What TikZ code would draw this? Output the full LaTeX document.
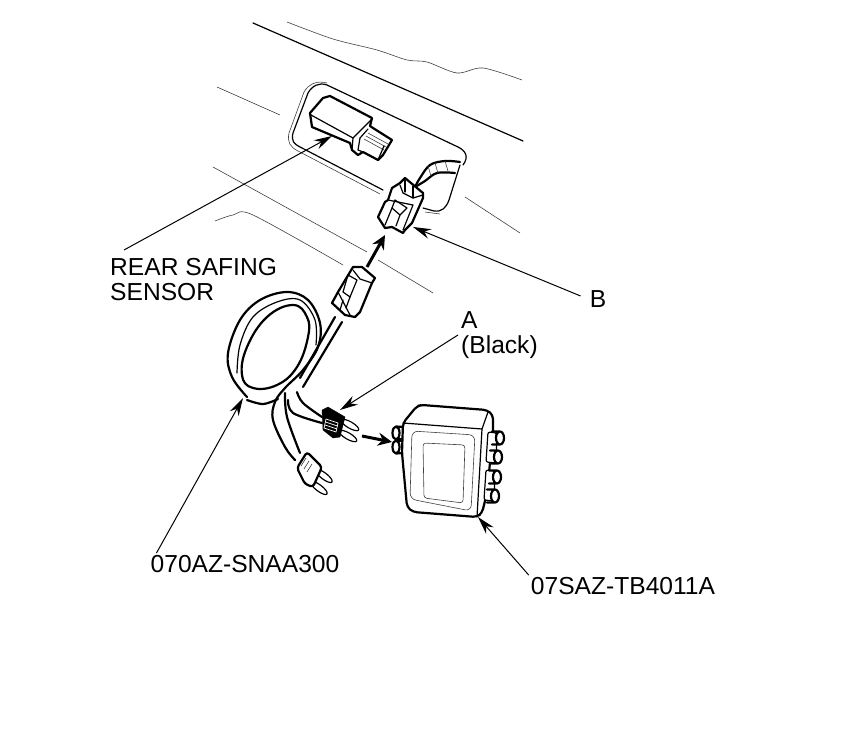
\documentclass[tikz,border=0pt]{standalone}
\usepackage{fontspec}
\setmainfont{Liberation Sans}
\usetikzlibrary{arrows.meta}
\tikzset{>=stealth}
\tikzset{
    heavy/.style={line width=2.2pt,line join=round,line cap=round},
    medium/.style={line width=1.2pt,line join=round,line cap=round},
    fine/.style={line width=.6pt,black!75},
    leader/.style={line width=1pt,-{Stealth[length=18pt,width=10pt]}},
    pusharrow/.style={line width=3pt,-{Stealth[length=14pt,width=13pt]}},
    callout/.style={inner sep=0pt,font=\fontsize{24.6}{25.5}\selectfont,align=left},
}
\begin{document}
\begin{tikzpicture}[x=1pt,y=-1pt]
    \useasboundingbox (0,0) rectangle (860,735);

    \draw[medium] (253,23) -- (523,141);
    \draw[fine] plot[smooth,tension=.5] coordinates {(287,22) (333,39) (377,50) (407,60) (427,62) (457,73) (483,68) (522,80)};
    \draw[fine] (217,87) -- (280,115);
    \draw[fine] (213,167) -- (367,252);
    \draw[fine] (378,260) -- (433,293);
    \draw[fine] plot[smooth,tension=.5] coordinates {(215,221) (233,215) (253,215) (343,265)};
    \draw[fine] (465,197) -- (520,233);

    \draw[medium] (383,190) -- (300,147) .. controls (294,144) and (291,141) .. (293,133) -- (308,93) .. controls (312,86) and (319,82) .. (327,85) -- (458,147) .. controls (466,151) and (469,157) .. (463,165);
    \draw[medium] (460,165) -- (449,200) .. controls (446,208) and (442,212) .. (434,211) -- (423,208);
    \draw[fine] (380,194) -- (298,151) .. controls (290,147) and (287,142) .. (289,133) -- (304,92) .. controls (308,85) and (316,80) .. (327,83);
    \draw[fine] (425,212) -- (440,214);

    \draw[heavy,fill=white] (310,113) -- (323,98) -- (330,96) -- (372,118) -- (370,126) -- (373,128) -- (392,140) -- (383,155) -- (378,160) -- (363,152) -- (358,155) -- (352,150) -- (350,143) -- (312,127) -- cycle;
    \draw[medium] (311,115) -- (353,138) -- (372,119);
    \draw[medium] (353,138) -- (352,150);
    \draw[medium] (360,138) -- (358,150) -- (363,152);
    \draw[medium] (360,138) -- (368,129);
    \draw[fine] (368,133) -- (388,144);
    \draw[fine] (366,136) -- (386,147);
    \draw[fine] (364,139) -- (384,150);
    \draw[medium] (378,160) -- (384,146);

    \draw[heavy] plot[smooth,tension=.6] coordinates {(415,187) (420,178) (430,165) (445,161) (460,162)};
    \draw[heavy] plot[smooth,tension=.6] coordinates {(455,173) (437,173) (425,181) (415,187)};
    \foreach \ribx/\riby in {428/166,435/163,445/161}
        \draw[fine] (\ribx,\riby) -- ++(3,10);

    \draw[heavy,fill=white] (400,183) -- (405,178) -- (423,193) -- (423,198) -- (412,223) -- (405,230) -- (403,233) -- (392,227) -- (385,228) -- (378,217) -- (385,202) -- (388,200) -- (392,188) -- cycle;
    \draw[medium] (400,185) -- (403,193) -- (413,198) -- (423,195);
    \draw[medium] (405,180) -- (405,192);
    \draw[medium] (413,186) -- (413,198);
    \draw[medium] (395,200) -- (392,208) -- (400,215) -- (407,208) -- (398,202) -- cycle;
    \draw[medium] (388,200) -- (413,205) -- (403,230);
    \draw[medium] (392,208) -- (385,225);
    \draw[medium] (400,215) -- (396,226);

    \coordinate (sensortip) at (332,136);
    \coordinate (connbtip) at (413,227);
    \coordinate (plugtip) at (340,410);
    \coordinate (looptip) at (243,398);
    \coordinate (boxtip) at (478,517);

    \draw[heavy] plot[smooth,tension=.6] coordinates {(247,397) (232,377) (228,353) (240,320) (260,300) (287,292) (308,300) (320,323) (318,347) (303,370) (285,388) (275,402) (273,420) (285,447) (295,460)};
    \draw[heavy] plot[smooth cycle,tension=.7] coordinates {(293,305) (307,317) (308,337) (297,367) (277,385) (253,388) (242,375) (247,347) (267,317)};
    \draw[medium] plot[smooth,tension=.6] coordinates {(237,373) (240,345) (253,317) (277,302) (300,300) (315,320) (316,345)};
    \draw[heavy] plot[smooth,tension=.6] coordinates {(247,400) (263,404) (278,399)};
    \draw[heavy] (335,317) -- (300,378);
    \draw[heavy] (342,322) -- (303,387);
    \draw[heavy] plot[smooth,tension=.6] coordinates {(297,392) (303,403) (322,417)};
    \draw[heavy] plot[smooth,tension=.6] coordinates {(288,400) (293,413) (322,423)};
    \draw[heavy] plot[smooth,tension=.6] coordinates {(285,393) (287,417) (300,453)};

    \draw[heavy,fill=white] (353,267) -- (362,267) -- (375,278) -- (372,283) -- (360,312) -- (355,317) -- (345,315) -- (332,303) -- (338,292) -- cycle;
    \draw[medium] (353,270) -- (360,279) -- (372,283);
    \draw[medium] (348,275) -- (357,280) -- (350,297) -- (343,292) -- cycle;
    \draw[medium] (338,292) -- (350,315);
    \draw[medium] (343,300) -- (340,310);
    \draw[medium] (350,297) -- (346,308);

    \foreach \pinx/\piny in {350/425,348/436}
        \draw[medium,fill=white] (\pinx,\piny) [rotate around={-30:(\pinx,\piny)}] ellipse (10 and 3.2);
    \draw[black,fill=black,line join=round] (322,410) -- (328,407) -- (345,417) -- (340,437) -- (333,438) -- (323,430) -- cycle;
    \draw[white,line width=.7pt] (326,419) -- (338,423) -- (336,432) -- (324,428) -- cycle;
    \draw[white,line width=.7pt] (325.5,422) -- (337.5,426) (325,425) -- (337,429);

    \foreach \pinx/\piny in {324/476,319/488}
        \draw[medium,fill=white] (\pinx,\piny) [rotate around={-37:(\pinx,\piny)}] ellipse (10 and 3.2);
    \draw[heavy,fill=white,rounded corners=3pt] (297,468) -- (307,452) -- (322,467) -- (313,487) -- (305,484) -- cycle;
    \draw[fine] (301,466) -- (306,458) (304,469) -- (309,461) (307,472) -- (312,464);

    \draw[pusharrow] (367,267) -- (385,235);
    \draw[pusharrow] (362,436) -- (392,442);

    \foreach \porty in {433,447}
        \draw[heavy,fill=white] (396,\porty) ellipse (3.5 and 6.5) (396,\porty-6.5) -- (404,\porty-6) (396,\porty+6.5) -- (404,\porty+6);
    \draw[heavy,fill=white,rounded corners=4pt] (403,423) -- (417,406) -- (422,405) -- (487,410) -- (493,415) -- (493,432) -- (487,493) -- (482,513) -- (477,517) -- (413,512) -- (407,507) -- (402,453) -- cycle;
    \draw[medium] (403,423) -- (482,429) -- (488,412);
    \draw[medium] (482,429) -- (477,517);
    \draw[fine,rounded corners=6pt] (412,431) -- (475,435) -- (471,511) -- (410,499) -- cycle;
    \draw[fine,rounded corners=3pt] (423,443) -- (465,445) -- (463,503) -- (424,498) -- cycle;
    \draw[medium,fill=white,rounded corners=2pt] (488,432) -- (497,433) -- (496,463) -- (486,462) -- cycle;
    \draw[medium,fill=white,rounded corners=2pt] (486,470) -- (495,471) -- (494,501) -- (484,500) -- cycle;
    \foreach \portx/\porty in {500/438,498/457,497/477,495/496}
        \draw[heavy,fill=white] (\portx,\porty) ellipse (4 and 6.5) (\portx,\porty-6.5) -- ++(-8,0) (\portx,\porty+6.5) -- ++(-8,0);

    \node[callout,anchor=north west] (rearlabel) at (110,258) {REAR SAFING\\SENSOR};
    \node[callout,anchor=center] (blabel) at (598,299) {B};
    \node[callout,anchor=north west] (alabel) at (461,311) {A\\(Black)};
    \node[callout,anchor=center] (looplabel) at (245,564) {070AZ-SNAA300};
    \node[callout,anchor=center] (boxlabel) at (623,586) {07SAZ-TB4011A};

    \draw[leader] (rearlabel.north west)++(14,-8) -- (sensortip);
    \draw[leader] (blabel.west)++(-9,-3) -- (connbtip);
    \draw[leader] (alabel.north west)++(-3,24) -- (plugtip);
    \draw[leader] (looplabel.north west)++(6,-2) -- (looptip);
    \draw[leader] (boxlabel.north west)++(-2,-2) -- (boxtip);
\end{tikzpicture}
\end{document}
